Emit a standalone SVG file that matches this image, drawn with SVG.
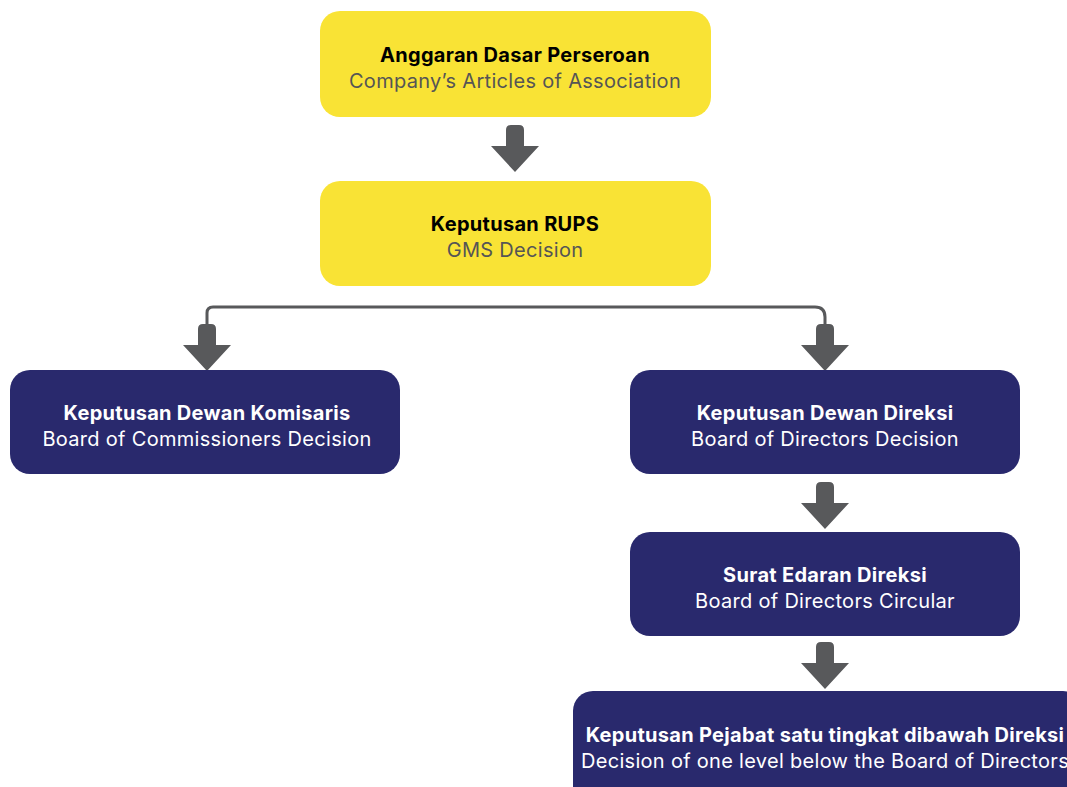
<svg xmlns="http://www.w3.org/2000/svg" width="1067" height="787" viewBox="0 0 1067 787">
<defs>
<style>
.y{fill:#F9E335}
.n{fill:#29296D}
.t{font-family:Inter,"Liberation Sans",sans-serif;font-size:20px;letter-spacing:0.3px;text-anchor:middle}
.b{font-weight:700}
.dk .b{fill:#000}
.dk .r{fill:#555}
.lt text{fill:#fff}
.ar{fill:#58595B}
.ln{fill:none;stroke:#58595B;stroke-width:3}
</style>
<path id="arr" d="M-9,0 Q-9,-5 -4,-5 L4,-5 Q9,-5 9,0 L9,16 L24,16 L0,42 L-24,16 L-9,16 Z"/>
</defs>
<rect width="1067" height="787" fill="#fff"/>
<g id="connectors">
<path class="ln" d="M207,325 L207,313 Q207,307 213,307 L815,307 Q825,307 825,317 L825,325"/>
<use href="#arr" class="ar" x="515" y="130"/>
<use href="#arr" class="ar" x="207" y="329"/>
<use href="#arr" class="ar" x="825" y="329"/>
<use href="#arr" class="ar" x="825" y="487"/>
<use href="#arr" class="ar" x="825" y="647"/>
</g>
<g id="n1" class="dk">
<rect class="y" x="320" y="11" width="391" height="106" rx="20"/>
<text class="t b" x="515" y="62">Anggaran Dasar Perseroan</text>
<text class="t r" x="515" y="88">Company’s Articles of Association</text>
</g>
<g id="n2" class="dk">
<rect class="y" x="320" y="181" width="391" height="105" rx="20"/>
<text class="t b" x="515" y="231">Keputusan RUPS</text>
<text class="t r" x="515" y="257">GMS Decision</text>
</g>
<g id="n3" class="lt">
<rect class="n" x="10" y="370" width="390" height="104" rx="20"/>
<text class="t b" x="207" y="420">Keputusan Dewan Komisaris</text>
<text class="t" x="207" y="446">Board of Commissioners Decision</text>
</g>
<g id="n4" class="lt">
<rect class="n" x="630" y="370" width="390" height="104" rx="20"/>
<text class="t b" x="825" y="420">Keputusan Dewan Direksi</text>
<text class="t" x="825" y="446">Board of Directors Decision</text>
</g>
<g id="n5" class="lt">
<rect class="n" x="630" y="532" width="390" height="104" rx="20"/>
<text class="t b" x="825" y="582">Surat Edaran Direksi</text>
<text class="t" x="825" y="608">Board of Directors Circular</text>
</g>
<g id="n6" class="lt">
<rect class="n" x="573" y="691" width="510" height="120" rx="20"/>
<text class="t b" x="825" y="742">Keputusan Pejabat satu tingkat dibawah Direksi</text>
<text class="t" x="825" y="768">Decision of one level below the Board of Directors</text>
</g>
</svg>
